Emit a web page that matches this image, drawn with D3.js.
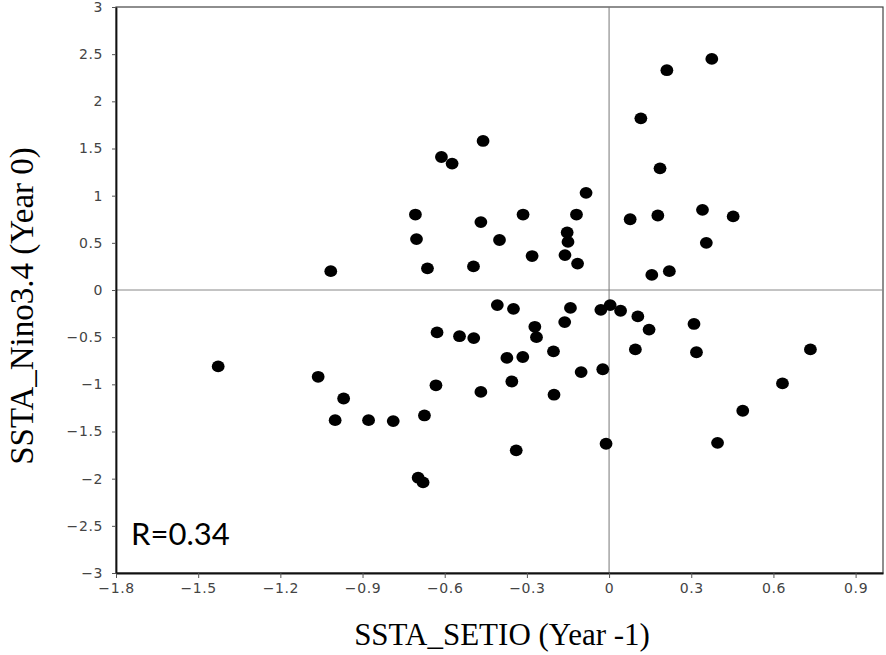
<!DOCTYPE html>
<html><head><meta charset="utf-8">
<script src="https://cdn.jsdelivr.net/npm/d3@7"></script>
<style>body{margin:0;background:#fff}</style>
</head><body>
<svg id="c" width="886" height="655"></svg>
<script>
const xVals = [-1.016,-0.707,-0.703,-0.663,-0.612,-0.573,-0.460,-0.468,-0.495,-0.400,
  -0.314,-0.281,-0.084,-0.119,-0.153,-0.150,-0.161,-0.115,0.211,0.375,
  0.116,0.186,0.077,0.178,0.341,0.453,0.355,0.156,0.220,-1.427,
  -1.062,-0.969,-1.000,-0.878,-0.788,-0.674,-0.632,-0.628,-0.546,-0.494,
  -0.468,-0.697,-0.679,-0.408,-0.349,-0.271,-0.265,-0.373,-0.315,-0.355,
  -0.162,-0.141,-0.203,-0.201,-0.102,-0.023,-0.030,0.004,0.042,0.105,
  0.146,0.096,0.310,0.319,0.735,0.633,0.488,0.396,-0.011,-0.339];
const yVals = [0.20,0.80,0.54,0.23,1.41,1.34,1.58,0.72,0.25,0.53,
  0.80,0.36,1.03,0.80,0.61,0.51,0.37,0.28,2.33,2.45,
  1.82,1.29,0.75,0.79,0.85,0.78,0.50,0.16,0.20,-0.81,
  -0.92,-1.15,-1.38,-1.38,-1.39,-1.33,-1.01,-0.45,-0.49,-0.51,
  -1.08,-1.99,-2.04,-0.16,-0.20,-0.39,-0.50,-0.72,-0.71,-0.97,
  -0.34,-0.19,-0.65,-1.11,-0.87,-0.84,-0.21,-0.16,-0.22,-0.28,
  -0.42,-0.63,-0.36,-0.66,-0.63,-0.99,-1.28,-1.62,-1.63,-1.70];
const xTicks = [-1.8,-1.5,-1.2,-0.9,-0.6,-0.3,0,0.3,0.6,0.9];
const yTicks = [-3,-2.5,-2,-1.5,-1,-0.5,0,0.5,1,1.5,2,2.5,3];
const xTitle = "SSTA_SETIO (Year -1)";
const yTitle = "SSTA_Nino3.4 (Year 0)";
const rText = "R=0.34";

const svg = d3.select("#c");
const x = d3.scaleLinear().domain([-1.8, 1.0]).range([116, 883]);
const y = d3.scaleLinear().domain([-3, 3]).range([573, 7]);
const fmt = v => (v < 0 ? "\u2212" : "") + String(Math.abs(v));

// frame (top/right)
svg.append("rect").attr("x", x(-1.8)).attr("y", y(3))
  .attr("width", x(1.0) - x(-1.8)).attr("height", y(-3) - y(3))
  .attr("fill", "none").attr("stroke", "#444").attr("stroke-width", 1.2);

// zero lines
svg.append("line").attr("x1", x(-1.8)).attr("x2", x(1.0)).attr("y1", y(0)).attr("y2", y(0))
  .attr("stroke", "#888").attr("stroke-width", 1);
svg.append("line").attr("x1", x(0)).attr("x2", x(0)).attr("y1", y(3)).attr("y2", y(-3))
  .attr("stroke", "#777").attr("stroke-width", 1);

// axes
const gx = svg.append("g").attr("transform", `translate(0,${y(-3)})`)
  .call(d3.axisBottom(x).tickValues(xTicks).tickFormat(fmt).tickSize(5).tickSizeOuter(0).tickPadding(5));
const gy = svg.append("g").attr("transform", `translate(${x(-1.8)},0)`)
  .call(d3.axisLeft(y).tickValues(yTicks).tickFormat(fmt).tickSize(4).tickSizeOuter(0).tickPadding(9));
[gx, gy].forEach(g => {
  g.select(".domain").attr("stroke", "#111").attr("stroke-width", 1.8);
  g.selectAll(".tick line").attr("stroke", "#555").attr("stroke-width", 1);
  g.selectAll(".tick text").attr("fill", "#444")
    .style("font-family", "DejaVu Sans").style("font-size", "14px").style("letter-spacing", "0.6px");
});

// points
svg.append("g").selectAll("ellipse").data(xVals.map((v, i) => [v, yVals[i]])).join("ellipse")
  .attr("cx", d => x(d[0])).attr("cy", d => y(d[1]))
  .attr("rx", 6.4).attr("ry", 5.9).attr("fill", "#000");

// titles
svg.append("text").attr("x", 502).attr("y", 645).attr("text-anchor", "middle")
  .style("font-family", "Liberation Serif").style("font-size", "31px").attr("fill", "#000")
  .text(xTitle);
svg.append("text").attr("transform", `translate(33,306) rotate(-90)`).attr("text-anchor", "middle")
  .style("font-family", "Liberation Serif").style("font-size", "33px").attr("fill", "#000")
  .text(yTitle);
svg.append("text").attr("x", 131).attr("y", 545)
  .style("font-family", "Lato").style("font-size", "31px").attr("fill", "#000")
  .text(rText);
</script>
</body></html>
